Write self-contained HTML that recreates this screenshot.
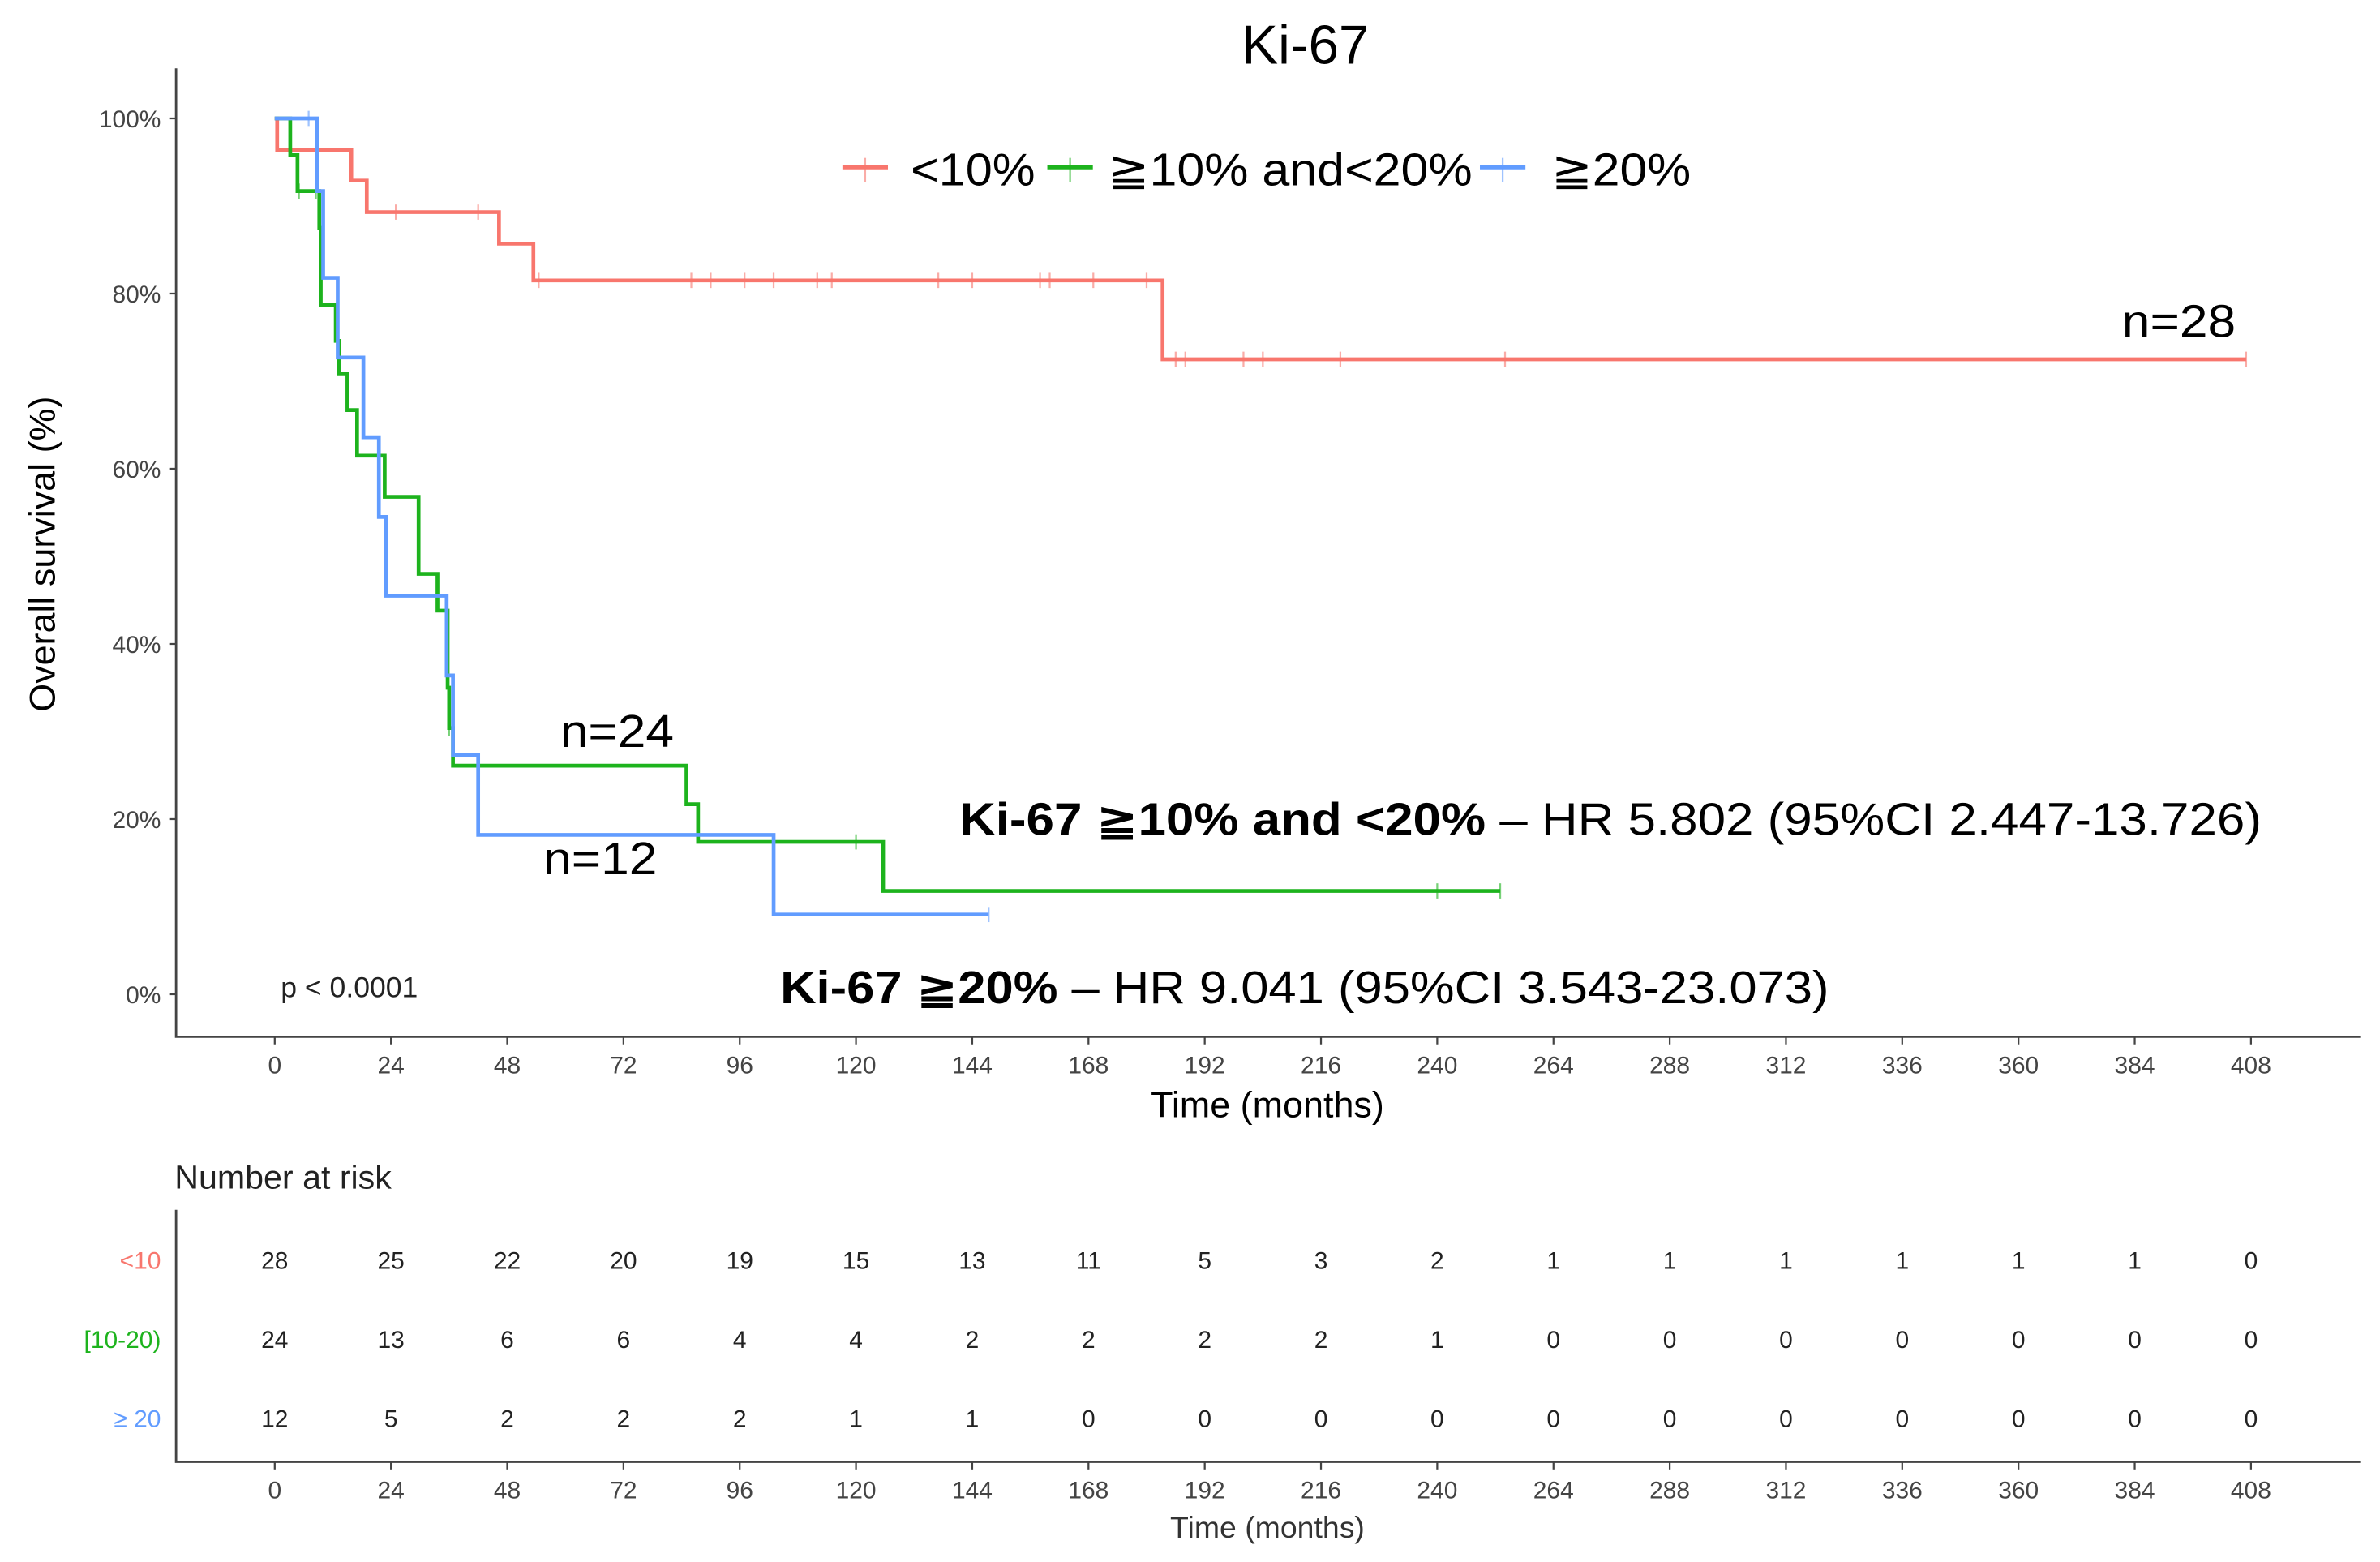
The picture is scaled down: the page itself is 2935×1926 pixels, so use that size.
<!DOCTYPE html>
<html><head><meta charset="utf-8"><style>
html,body{margin:0;padding:0;background:#fff;}
svg{display:block;font-family:"Liberation Sans","DejaVu Sans",sans-serif;}
</style></head><body>
<svg id="chart" xmlns="http://www.w3.org/2000/svg" width="2935" height="1926" viewBox="0 0 1568 1029" preserveAspectRatio="none">
<g id="main"></g>
<g id="risk"></g>
</svg>
<script>
const xTicks=[0,24,48,72,96,120,144,168,192,216,240,264,288,312,336,360,384,408];
const yTicks=[0,20,40,60,80,100];
const redT=[0,0.5,15.8,19,46.3,53.4,183.3];
const redS=[100,96.4,92.9,89.3,85.7,81.5,72.5];
const redEnd=407;
const redCens=[25,42,54.5,86,90,97,103,112,115,137,144,158,160,169,180,186,188,200,204,220,254,407];
const greenT=[0,3.2,4.7,9.2,9.5,12.6,13.3,15,17,22.7,29.7,33.6,35.7,36,36.8,85,87.4,125.6];
const greenS=[100,95.8,91.7,87.5,78.7,74.6,70.8,66.7,61.5,56.8,48,43.8,35,30.4,26.1,21.7,17.4,11.8];
const greenEnd=253;
const greenCens=[5,8.5,36,120,240,253];
const blueT=[0,8.7,10,13,18.3,21.5,23,35.5,36.8,42,103];
const blueS=[100,91.7,81.8,72.7,63.6,54.5,45.5,36.4,27.3,18.2,9.1];
const blueEnd=147.4;
const blueCens=[7,147.4];
const riskGroups=["<10","[10-20)","\u2265 20"];
const riskLow=[28,25,22,20,19,15,13,11,5,3,2,1,1,1,1,1,1,0];
const riskMid=[24,13,6,6,4,4,2,2,2,2,1,0,0,0,0,0,0,0];
const riskHigh=[12,5,2,2,2,1,1,0,0,0,0,0,0,0,0,0,0,0];

const NS="http://www.w3.org/2000/svg";
const X=t=>181+t*(1483-181)/408;
const Y=s=>655-s*(655-78)/100;
function mk(parent,tag,attrs,text){const e=document.createElementNS(NS,tag);for(const k in attrs)e.setAttribute(k,attrs[k]);if(text!==undefined)e.textContent=text;parent.appendChild(e);return e;}
const main=document.getElementById('main');
const risk=document.getElementById('risk');
const RED="#F8766D",GREEN="#1DB31D",BLUE="#619CFF";

let e=mk(main,'text',{x:860,y:42,'font-size':36,'text-anchor':'middle',fill:'#000'},'Ki-67');

e=mk(main,'path',{d:'M116,45 V683 H1555',stroke:'#444','stroke-width':1.5,fill:'none'});

yTicks.forEach(v=>{
  let l=mk(main,'line',{x1:112,x2:116,y1:Y(v),y2:Y(v),stroke:'#444','stroke-width':1.2});
  
  let t=mk(main,'text',{x:106,y:Y(v)+6,'font-size':16,'text-anchor':'end',fill:'#444'},v+'%');
  
});
function xAxis(g,y0){xTicks.forEach(v=>{
  let l=mk(g,'line',{x1:X(v),x2:X(v),y1:y0,y2:y0+5,stroke:'#444','stroke-width':1.2});
  
  let t=mk(g,'text',{x:X(v),y:y0+24,'font-size':16,'text-anchor':'middle',fill:'#444'},v);
  
});}
xAxis(main,683);
e=mk(main,'text',{x:835,y:736,'font-size':24,'text-anchor':'middle',fill:'#000'},'Time (months)');

e=mk(main,'text',{x:0,y:0,'font-size':24,'text-anchor':'middle',fill:'#000',transform:'translate(36,365) rotate(-90)'},'Overall survival (%)');


function curve(T,S,end,cens,col,name){
  let d='M'+X(T[0])+','+Y(S[0]);
  for(let i=1;i<T.length;i++){d+=' H'+X(T[i])+' V'+Y(S[i]);}
  d+=' H'+X(end);
  let p=mk(main,'path',{d:d,stroke:col,'stroke-width':2.5,fill:'none'});
  
  cens.forEach(c=>{let s=S[0];for(let i=0;i<T.length;i++)if(T[i]<=c)s=S[i];
    let m=mk(main,'line',{x1:X(c),x2:X(c),y1:Y(s)-5,y2:Y(s)+5,stroke:col,'stroke-width':1.2,opacity:0.6});
    });
}
curve(redT,redS,redEnd,redCens,RED,'low-ki67');
curve(greenT,greenS,greenEnd,greenCens,GREEN,'mid-ki67');
curve(blueT,blueS,blueEnd,blueCens,BLUE,'high-ki67');

// legend
[[555,RED,600,'<10%',82],[690,GREEN,730,'\u226710% and<20%',240],[975,BLUE,1022,'\u226720%',92]].forEach((L,i)=>{
  let g=mk(main,'g',{});
  
  mk(g,'line',{x1:L[0],x2:L[0]+30,y1:110,y2:110,stroke:L[1],'stroke-width':3});
  mk(g,'line',{x1:L[0]+15,x2:L[0]+15,y1:104,y2:120,stroke:L[1],'stroke-width':1.2,opacity:0.6});
  mk(g,'text',{x:L[2],y:122,'font-size':30,fill:'#000',textLength:L[4],lengthAdjust:'spacingAndGlyphs'},L[3]);
});
[[1398,222,'n=28',75],[369,492,'n=24',75],[358,576,'n=12',75]].forEach(a=>{
  let t=mk(main,'text',{x:a[0],y:a[1],'font-size':30,fill:'#000',textLength:a[3],lengthAdjust:'spacingAndGlyphs'},a[2]);
  
});
e=mk(main,'text',{x:632,y:550,'font-size':30,fill:'#000',textLength:858,lengthAdjust:'spacingAndGlyphs'});

mk(e,'tspan',{'font-weight':'bold'},'Ki-67 \u226710% and <20%');mk(e,'tspan',{},'  \u2013  HR 5.802 (95%CI 2.447-13.726)');
e=mk(main,'text',{x:514,y:661,'font-size':30,fill:'#000',textLength:691,lengthAdjust:'spacingAndGlyphs'});

mk(e,'tspan',{'font-weight':'bold'},'Ki-67 \u226720%');mk(e,'tspan',{},' \u2013  HR 9.041 (95%CI 3.543-23.073)');
e=mk(main,'text',{x:185,y:657,'font-size':19,fill:'#222'},'p < 0.0001');


// risk table
e=mk(risk,'text',{x:115,y:783,'font-size':22,fill:'#222'},'Number at risk');

e=mk(risk,'path',{d:'M116,797 V963 H1555',stroke:'#444','stroke-width':1.5,fill:'none'});

const rows=[riskLow,riskMid,riskHigh],rowY=[830,882,934],rowCol=[RED,GREEN,BLUE];
rows.forEach((r,i)=>{
  let lab=mk(risk,'text',{x:106,y:rowY[i]+6,'font-size':16,'text-anchor':'end',fill:rowCol[i]},riskGroups[i]);
  
  r.forEach((v,j)=>{
    let t=mk(risk,'text',{x:X(xTicks[j]),y:rowY[i]+6,'font-size':16,'text-anchor':'middle',fill:'#222'},v);
    
  });
});
xAxis(risk,963);
e=mk(risk,'text',{x:835,y:1013,'font-size':20,'text-anchor':'middle',fill:'#333'},'Time (months)');

</script>
</body></html>
